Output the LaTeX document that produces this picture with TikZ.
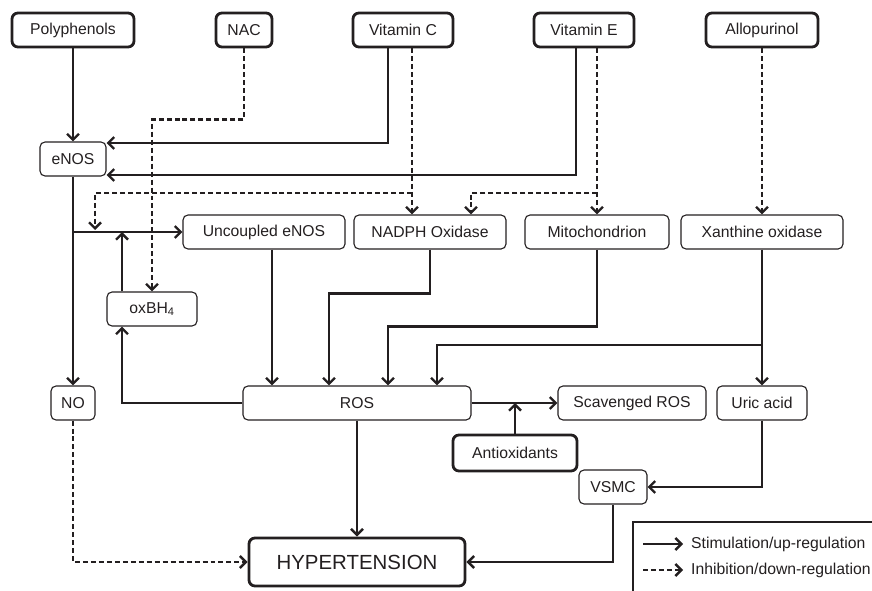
\documentclass[tikz,border=0pt]{standalone}
\usepackage{fontspec}
\setmainfont{Liberation Sans}
\usetikzlibrary{arrows.meta,calc}
\definecolor{ink}{RGB}{35,31,32}
\begin{document}
\begin{tikzpicture}[x=1bp,y=-1bp,
  every node/.style={font=\fontsize{15.8}{18}\selectfont, text=ink},
  box/.style={draw=ink, line width=1.1pt, rounded corners=5pt, inner sep=0pt, anchor=center},
  thickbox/.style={box, line width=2.8pt, rounded corners=6pt},
  arr/.style={draw=ink, line width=2.4pt, -{Straight Barb[length=6pt,width=12pt]}},
  darr/.style={arr, dash pattern=on 5pt off 3pt}]
\useasboundingbox (0,0) rectangle (872,591);

% top agents
\node[thickbox, minimum width=122bp, minimum height=34bp] (poly) at (73,30) {Polyphenols};
\node[thickbox, minimum width=56bp, minimum height=34bp] (nac) at (244,30) {NAC};
\node[thickbox, minimum width=100bp, minimum height=34bp] (vitc) at (403,30) {Vitamin C};
\node[thickbox, minimum width=100bp, minimum height=34bp] (vite) at (584,30) {Vitamin E};
\node[thickbox, minimum width=112bp, minimum height=34bp] (allo) at (762,30) {Allopurinol};

% middle
\node[box, minimum width=66bp, minimum height=34bp] (enos) at (73,159) {eNOS};
\node[box, minimum width=162bp, minimum height=34bp] (unc) at (264,232) {Uncoupled eNOS};
\node[box, minimum width=152bp, minimum height=34bp] (nadph) at (430,232) {NADPH Oxidase};
\node[box, minimum width=144bp, minimum height=34bp] (mito) at (597,232) {Mitochondrion};
\node[box, minimum width=162bp, minimum height=34bp] (xo) at (762,232) {Xanthine oxidase};
\node[box, minimum width=90bp, minimum height=34bp] (oxbh) at (152,309) {oxBH\textsubscript{4}};
\node[box, minimum width=44bp, minimum height=34bp] (no) at (73,403) {NO};
\node[box, minimum width=228bp, minimum height=34bp] (ros) at (357,403) {ROS};
\node[box, minimum width=148bp, minimum height=34bp] (scav) at (632,403) {Scavenged ROS};
\node[box, minimum width=90bp, minimum height=34bp] (uric) at (762,403) {Uric acid};
\node[thickbox, minimum width=124bp, minimum height=36bp] (anti) at (515,453) {Antioxidants};
\node[box, minimum width=68bp, minimum height=34bp] (vsmc) at (613,487) {VSMC};
\node[thickbox, minimum width=216bp, minimum height=48bp, font=\fontsize{20.5}{24}\selectfont] (hyp) at (357,562) {HYPERTENSION};

% lane coordinates
\coordinate (c1) at (388,143);
\coordinate (c2) at (412,193);
\coordinate (c3) at (95,230);
\coordinate (c4) at (122,232);
\coordinate (c5) at (576,175);
\coordinate (c6) at (597,193);
\coordinate (c7) at (471,193);
\coordinate (c8) at (272,0);
\coordinate (c9) at (329,0);
\coordinate (c10) at (388,0);
\coordinate (c11) at (437,345);
\coordinate (c12) at (762,345);

% connectors
\draw[arr] (poly) -- (enos);
\draw[darr] (nac.south) -- ++(0,71) -| (oxbh.north);
\draw[arr] (vitc.south -| c1) |- (c1 -| enos.east);
\draw[darr] (vitc.south -| c2) -- (nadph.north -| c2);
\draw[darr] (c2) -| (c3);
\draw[arr] (vite.south -| c5) |- (c5 -| enos.east);
\draw[darr] (vite.south -| mito.north) -- (mito.north);
\draw[darr] (c6) -| (nadph.north -| c7);
\draw[darr] (allo) -- (xo);
\draw[arr] (enos) -- (no);
\draw[arr] (enos.south |- unc.west) -- (unc.west);
\draw[arr] (oxbh.north -| c4) -- (c4);
\draw[arr] (ros.west) -| (oxbh.south -| c4);
\draw[arr] (unc.south -| c8) -- (ros.north -| c8);
\draw[arr] (nadph.south) -- ++(0,44) -| (ros.north -| c9);
\draw[arr] (mito.south) -- ++(0,77) -| (ros.north -| c10);
\draw[arr] (xo) -- (uric);
\draw[arr] (c12) -| (ros.north -| c11);
\draw[arr] (ros.east) -- (scav.west);
\draw[arr] (anti.north) -- (anti.north |- ros.east);
\draw[arr] (uric.south) |- (vsmc.east);
\draw[arr] (vsmc.south) |- (hyp.east);
\draw[arr] (ros.south) -- (hyp.north);
\draw[darr] (no.south) |- (hyp.west);

% legend
\draw[ink, line width=1.1pt] (633,522) rectangle (880,600);
\coordinate (l1a) at (643,544);
\coordinate (l1b) at (683,544);
\coordinate (l2a) at (643,570);
\coordinate (l2b) at (683,570);
\draw[arr] (l1a) -- (l1b);
\draw[darr] (l2a) -- (l2b);
\node[anchor=west, inner sep=0pt] (lt1) at (691,544) {Stimulation/up-regulation};
\node[anchor=west, inner sep=0pt] (lt2) at (691,570) {Inhibition/down-regulation};
\end{tikzpicture}
\end{document}
